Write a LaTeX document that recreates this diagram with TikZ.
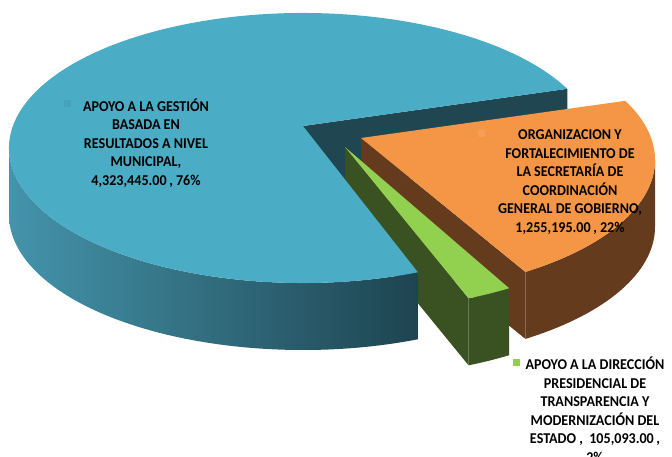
\documentclass[tikz,border=0pt]{standalone}
\usepackage{fontspec}
\setmainfont{Carlito}[FakeStretch=0.94]
\usepackage{xcolor}
\usepackage{tikz}
\usetikzlibrary{calc}

\definecolor{bluetop}{HTML}{4BACC6}
\definecolor{bluekey}{HTML}{45A2BC}
\definecolor{blueback}{HTML}{1F4651}
\definecolor{bluesideL}{HTML}{4494AB}
\definecolor{bluesideR}{HTML}{1E4450}
\definecolor{orangetop}{HTML}{F49646}
\definecolor{orangekey}{HTML}{F69E55}
\definecolor{brownside}{HTML}{653B1E}
\definecolor{greentop}{HTML}{92D050}
\definecolor{greenside}{HTML}{3A5221}

\begin{document}
\begin{tikzpicture}[x=1pt,y=1pt,
                    every node/.append style = {font=\fontsize{15}{18.5}\selectfont\bfseries,
                                                align=center, inner sep=0pt},
                    rim/.style = {x radius=294, y radius=135},
                    keybox/.style = {minimum size=7pt}]
                \clip (0,0) rectangle (672,456);
                % slice centres and apexes
                \coordinate (bc) at (303,308);
                \coordinate (ba) at (303,330);
                \coordinate (oc) at (361,296);
                \coordinate (oa) at (361,318);
                \coordinate (gc) at (349,281);
                \coordinate (ga) at (345,309);
                \path (bc) ++(26:294 and 135) coordinate (br1);
                \path (bc) ++(180:294 and 135) coordinate (br0);
                \path (oc) ++(0:294 and 135) coordinate (or0);
                \path (oc) ++(-56:294 and 135) coordinate (or2);
                \path (gc) ++(-66:294 and 135) coordinate (gr1);
                % back wall of the big slice
                \fill[blueback] (ba) -- (br1) -- ++(0,-67) -- ($(ba)+(0,-67)$) -- cycle;
                % orange slice
                \fill[brownside] (oa) -- (or2) -- ++(0,-67) -- ($(oa)+(0,-67)$) -- cycle;
                \fill[brownside] (or0) arc[rim, start angle=0, end angle=-56] -- ++(0,-67)
                    arc[rim, start angle=-56, end angle=0] -- cycle;
                \fill[orangetop] (oa) -- (or2) arc[rim, start angle=-56, end angle=26] -- cycle;
                % green slice
                \fill[greenside] (ga) -- (gr1) -- ++(0,-67) -- ($(ga)+(0,-67)$) -- cycle;
                \fill[greenside] (gr1) arc[rim, start angle=-66, end angle=-57] -- ++(0,-67)
                    arc[rim, start angle=-57, end angle=-66] -- cycle;
                \fill[greentop] (ga) -- (gr1) arc[rim, start angle=-66, end angle=-57] -- cycle;
                % big slice
                \shade[left color=bluesideL, right color=bluesideR] (br0)
                    arc[rim, start angle=180, end angle=293] -- ++(0,-67)
                    arc[rim, start angle=293, end angle=180] -- cycle;
                \fill[bluetop] (ba) -- (br1) arc[rim, start angle=26, end angle=293] -- cycle;
                % labels
                \node (lblue) at (146,313) {APOYO A LA GESTIÓN\\ BASADA EN\\ RESULTADOS A NIVEL\\
                    MUNICIPAL,\\ 4,323,445.00\,, 76\%};
                \node[keybox, fill=bluekey] (kblue) at (67,352) {};
                \node (lorange) at (570,274) {ORGANIZACION Y\\ FORTALECIMIENTO DE\\ LA SECRETARÍA DE\\
                    COORDINACIÓN\\ GENERAL DE GOBIERNO,\\ 1,255,195.00\,, 22\%};
                \node[keybox, fill=orangekey] (korange) at (481,322) {};
                \node (lgreen) at (595,46) {APOYO A LA DIRECCIÓN\\ PRESIDENCIAL DE\\ TRANSPARENCIA Y\\
                    MODERNIZACIÓN DEL\\ ESTADO ,\ \ 105,093.00\,,\\ 2\%};
                \node[keybox, fill=greentop] (kgreen) at (516,94) {};
\end{tikzpicture}
\end{document}
